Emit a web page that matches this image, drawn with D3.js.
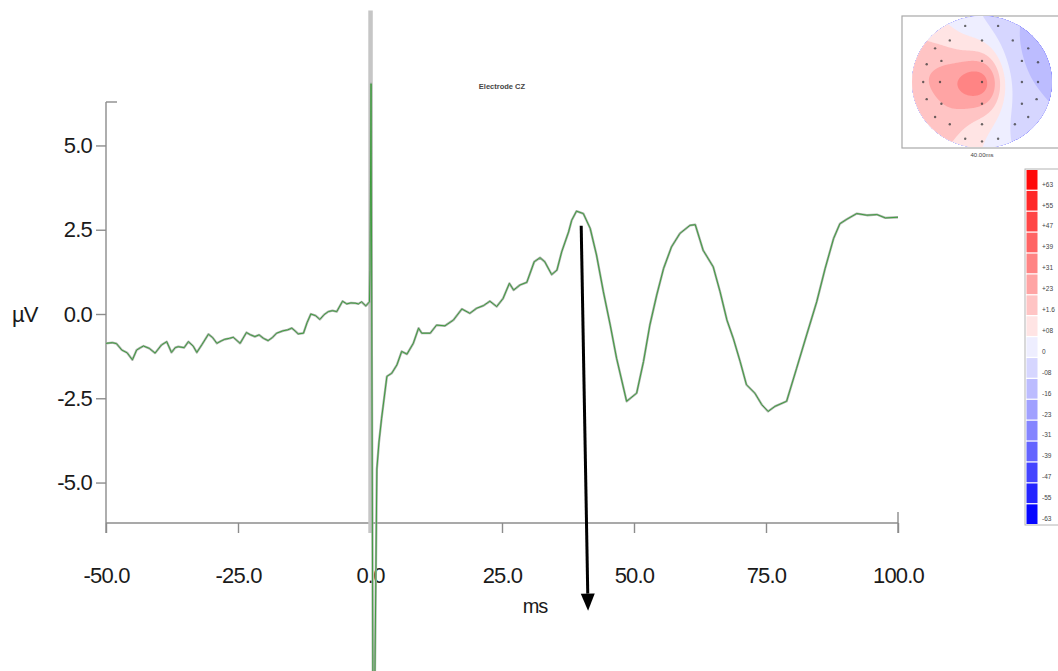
<!DOCTYPE html>
<html>
<head>
<meta charset="utf-8">
<script src="https://cdn.jsdelivr.net/npm/d3@7"></script>
<style>
  html, body { margin: 0; padding: 0; background: #fff; }
  svg { display: block; font-family: "Liberation Sans", Arial, sans-serif; }
</style>
</head>
<body>
<svg id="chart" width="1058" height="671"></svg>
<script>
// ---- ERP trace, electrode CZ (time in ms, amplitude in µV) ----
const timeMs = [
  -50, -48.8, -48, -47, -46, -45, -44.2, -43.5, -42.9, -41.8, -40.7, -39.5, -38.5, -37.6, -36.9, -36.3,
  -35.2, -34.4, -33.5, -32.8, -31.8, -30.6, -29.8, -29.0, -28.2, -27.5, -26.6, -25.9, -24.6, -23.4,
  -22.6, -21.8, -21.0, -20.2, -19.3, -18.5, -17.7, -16.5, -15.6, -14.8, -14.2, -13.6, -12.6, -11.9,
  -11.2, -10.3, -9.5, -8.7, -7.9, -7.1, -6.3, -5.2, -4.4, -3.6, -2.8, -2.2, -1.6, -0.8, -0.1,
  0.0, 0.2, 0.55, 0.9, 1.3, 1.7,
  2.2, 3.2, 4.1, 5.1, 6.0, 7.0, 8.2, 9.2, 9.8, 11.4, 12.6, 14.2, 15.8, 17.4, 18.9, 20.2, 21.5, 22.7,
  24.0, 25.2, 26.4, 27.2, 28.4, 29.7, 31.1, 32.2, 33.1, 34.4, 35.4, 36.3, 37.6, 38.2, 39.1, 40.4,
  41.7, 42.9, 44.2, 45.5, 46.7, 48.6, 50.5, 51.8, 53.0, 54.3, 55.6, 57.1, 58.7, 60.6, 61.6, 63.1,
  65.0, 66.3, 67.6, 68.8, 70.1, 71.3, 72.9, 74.2, 75.4, 76.7, 78.9, 80.8, 82.7, 84.6, 86.2, 87.8,
  89.0, 90.3, 92.2, 94.1, 96.0, 97.6, 100
];
const amplitudeUv = [
  -0.87, -0.85, -0.88, -1.07, -1.15, -1.36, -1.07, -1.0, -0.95, -1.02, -1.16, -0.92, -0.82, -1.14, -1.0, -0.97,
  -1.0, -0.82, -0.95, -1.14, -0.9, -0.60, -0.7, -0.87, -0.8, -0.75, -0.72, -0.69, -0.87, -0.55,
  -0.62, -0.67, -0.62, -0.72, -0.79, -0.7, -0.57, -0.5, -0.47, -0.42, -0.5, -0.59, -0.57, -0.25,
  0.0, -0.05, -0.16, -0.02, 0.07, 0.1, 0.07, 0.38, 0.3, 0.33, 0.32, 0.3, 0.36, 0.24, 0.36,
  1.3, 6.83, -11.2, -11.2, -4.6, -3.8,
  -3.09, -1.85, -1.76, -1.51, -1.11, -1.19, -0.87, -0.42, -0.57, -0.57, -0.33, -0.35, -0.18, 0.15, 0.02, 0.17, 0.25, 0.38,
  0.22, 0.46, 0.91, 0.71, 0.86, 0.94, 1.55, 1.67, 1.55, 1.17, 1.30, 1.84, 2.43, 2.78, 3.05, 2.98,
  2.54, 1.75, 0.66, -0.33, -1.31, -2.59, -2.35, -1.41, -0.33, 0.56, 1.35, 1.99, 2.39, 2.63, 2.65, 1.89,
  1.40, 0.66, -0.18, -0.72, -1.41, -2.10, -2.35, -2.69, -2.89, -2.74, -2.59, -1.61, -0.62, 0.36, 1.35, 2.24,
  2.68, 2.81, 2.98, 2.93, 2.95, 2.85, 2.87
];

// axis ticks
const xTicks = [-50, -25, 0, 25, 50, 75, 100];
const yTicks = [-5, -2.5, 0, 2.5, 5];

// stimulus marker (gray band at onset)
const stimulusTime = 0.1;
const stimulusTop = 9.0;
const stimulusBottom = -6.5;

// annotation arrow at the P40 peak
const arrowFrom = [40.0, 2.62];
const arrowTo = [41.3, -8.8];

// ---- scalp map at 40 ms: electrode positions (head units) and amplitudes ----
const elecX = [-0.24, 0.23, -0.46, 0, 0.44, -0.67, 0.66, -0.79, -0.58, 0, 0.57, 0.8, -0.84, -0.6, 0, 0.57, 0.8,
  -0.79, -0.58, 0, 0.57, 0.78, -0.67, -0.46, 0, 0.47, 0.66, -0.24, 0, 0.23];
const elecY = [-0.85, -0.85, -0.63, -0.63, -0.63, -0.51, -0.51, -0.27, -0.32, -0.32, -0.32, -0.30, 0, 0, 0, 0, 0,
  0.26, 0.33, 0.33, 0.33, 0.26, 0.53, 0.64, 0.64, 0.64, 0.53, 0.86, 0.9, 0.86];
const elecVal = [-0.3, -1.1, 0.5, 0.4, -1.3, 0.8, -1.4, 1.3, 2.6, 2.4, -1.1, -1.5, 1.6, 3.6, 4.4, -0.9, -1.5,
  0.5, 3.0, 2.6, -0.4, -1.4, 1.0, 1.7, 0.9, -0.7, -1.1, 1.0, 0.3, -0.5];

// colour bar, top to bottom
const barValues = [6.3, 5.5, 4.7, 3.9, 3.1, 2.3, 1.6, 0.8, 0, -0.8, -1.6, -2.3, -3.1, -3.9, -4.7, -5.5, -6.3];
const barLabels = ["+63", "+55", "+47", "+39", "+31", "+23", "+1.6", "+08", "0", "-08", "-16", "-23", "-31", "-39", "-47", "-55", "-63"];
const barColors = ["#ff0a0a", "#ff2828", "#ff4646", "#ff6464", "#ff8484", "#ffa4a4", "#ffc4c4", "#ffe4e4",
  "#eeeeff", "#d6d6ff", "#bcbcff", "#a0a0ff", "#8484ff", "#6464ff", "#4444ff", "#2424ff", "#0606ff"];

const mapLabel = "40.00ms";
const titleText = "Electrode CZ";

// ------------------------------------------------------------------
const svg = d3.select("#chart");
const axisColor = "#8c8c8c";
const fmt = d => d.toFixed(1);

const x = d3.scaleLinear().domain([-50, 100]).range([106, 898]);
const y = d3.scaleLinear().domain([-6.2, 6.2]).range([523, 105]);

// axes
const gx = svg.append("g").attr("transform", `translate(0,${y(-6.2)})`)
  .call(d3.axisBottom(x).tickValues(xTicks).tickFormat(fmt).tickSize(10).tickPadding(34));
const gy = svg.append("g").attr("transform", `translate(${x(-50)},0)`)
  .call(d3.axisLeft(y).tickValues(yTicks).tickFormat(fmt).tickSize(10).tickPadding(4));
[gx, gy].forEach(g => {
  g.select(".domain").remove();
  g.selectAll(".tick line").attr("stroke", axisColor).attr("stroke-width", 1.4);
  g.selectAll(".tick text").attr("fill", "#1a1a1a").attr("font-size", 22)
    .attr("letter-spacing", "-0.8px").attr("font-family", '"Liberation Sans", Arial, sans-serif');
});
// axis lines
svg.append("line").attr("x1", x(-50)).attr("x2", x(100)).attr("y1", y(-6.2)).attr("y2", y(-6.2))
  .attr("stroke", axisColor).attr("stroke-width", 1.4);
svg.append("line").attr("x1", x(-50)).attr("x2", x(-50)).attr("y1", y(6.2) - 3).attr("y2", y(-6.2) + 10)
  .attr("stroke", axisColor).attr("stroke-width", 1.4);
svg.append("line").attr("x1", x(-50)).attr("x2", x(-50) + 11).attr("y1", y(6.2) - 3).attr("y2", y(6.2) - 3)
  .attr("stroke", axisColor).attr("stroke-width", 1.4);
svg.append("line").attr("x1", x(100)).attr("x2", x(100)).attr("y1", y(-6.2) - 11).attr("y2", y(-6.2) + 10)
  .attr("stroke", axisColor).attr("stroke-width", 1.4);

// axis titles
svg.append("text").attr("x", 12).attr("y", y(0)).attr("dy", "0.35em").attr("font-size", 22)
  .attr("letter-spacing", "-1px").attr("fill", "#1a1a1a").text("µV");
svg.append("text").attr("x", 535).attr("y", 606).attr("dy", "0.35em").attr("text-anchor", "middle")
  .attr("font-size", 20).attr("letter-spacing", "-1px").attr("fill", "#1a1a1a").text("ms");

// title
svg.append("text").attr("x", 502).attr("y", 86).attr("dy", "0.35em").attr("text-anchor", "middle")
  .attr("font-size", 7.5).attr("font-weight", "bold").attr("fill", "#444").text(titleText);

// stimulus band
svg.append("line").attr("x1", x(stimulusTime)).attr("x2", x(stimulusTime))
  .attr("y1", y(stimulusTop)).attr("y2", y(stimulusBottom))
  .attr("stroke", "#c6c6c6").attr("stroke-width", 4.5);

// trace: gray underlay with a thin green line on top
const pts = timeMs.map((t, i) => [t, amplitudeUv[i]]);
const line = d3.line().x(d => x(d[0])).y(d => y(d[1]));
svg.append("path").datum(pts).attr("d", line).attr("fill", "none")
  .attr("stroke", "#a9b0a9").attr("stroke-width", 2.3).attr("stroke-linejoin", "round");
svg.append("path").datum(pts).attr("d", line).attr("fill", "none")
  .attr("stroke", "#3f9c3f").attr("stroke-width", 1).attr("stroke-linejoin", "round");

// annotation arrow
{
  const x1 = x(arrowFrom[0]), y1 = y(arrowFrom[1]);
  const x2 = x(arrowTo[0]), y2 = y(arrowTo[1]);
  const ang = Math.atan2(y2 - y1, x2 - x1);
  const headLen = 17, headHalf = 7;
  const bx = x2 - headLen * Math.cos(ang), by = y2 - headLen * Math.sin(ang);
  svg.append("line").attr("x1", x1).attr("y1", y1).attr("x2", bx).attr("y2", by)
    .attr("stroke", "#000").attr("stroke-width", 3);
  const px = -Math.sin(ang), py = Math.cos(ang);
  svg.append("path")
    .attr("d", `M${x2},${y2}L${bx + px * headHalf},${by + py * headHalf}L${bx - px * headHalf},${by - py * headHalf}Z`)
    .attr("fill", "#000");
}

// ---- scalp map ----
const box = { x: 902, y: 16, w: 170, h: 132 };
svg.append("rect").attr("x", box.x).attr("y", box.y).attr("width", box.w).attr("height", box.h)
  .attr("fill", "#fff").attr("stroke", "#a8a8a8").attr("stroke-width", 1.2);

const head = { cx: 982, cy: 82, rx: 70, ry: 66 };
const hx = d3.scaleLinear().domain([-1, 1]).range([head.cx - head.rx, head.cx + head.rx]);
const hy = d3.scaleLinear().domain([-1, 1]).range([head.cy - head.ry, head.cy + head.ry]);

const defs = svg.append("defs");
defs.append("clipPath").attr("id", "headClip")
  .append("ellipse").attr("cx", head.cx).attr("cy", head.cy).attr("rx", head.rx).attr("ry", head.ry);
defs.append("clipPath").attr("id", "boxClip")
  .append("rect").attr("x", box.x).attr("y", box.y).attr("width", box.w).attr("height", box.h - 1);

// Gaussian-kernel surface over the head, then banded contours
const sigma = 17;
const gx0 = head.cx - head.rx - 2, gy0 = head.cy - head.ry - 2;
const nx = Math.ceil(2 * head.rx) + 4, ny = Math.ceil(2 * head.ry) + 4;
const grid = new Float64Array(nx * ny);
const ex = elecX.map(hx), ey = elecY.map(hy);
for (let j = 0; j < ny; j++) {
  for (let i = 0; i < nx; i++) {
    const px = gx0 + i + 0.5, py = gy0 + j + 0.5;
    let num = 0, den = 0;
    for (let k = 0; k < elecVal.length; k++) {
      const dx = px - ex[k], dy = py - ey[k];
      const w = Math.exp(-(dx * dx + dy * dy) / (2 * sigma * sigma)) + 1e-9;
      num += w * elecVal[k]; den += w;
    }
    grid[j * nx + i] = num / den;
  }
}
const binsAsc = barColors.slice().reverse();
const step = (barValues[0] - barValues[barValues.length - 1]) / (barValues.length - 1);
const lowEdge = barValues[barValues.length - 1] - step / 2;
const edges = binsAsc.map((c, k) => (k === 0 ? -1e9 : lowEdge + k * step));
const contours = d3.contours().size([nx, ny]).thresholds(edges)(grid);
const mapG = svg.append("g").attr("clip-path", "url(#boxClip)")
  .append("g").attr("clip-path", "url(#headClip)")
  .append("g").attr("transform", `translate(${gx0},${gy0})`);
mapG.selectAll("path").data(contours).join("path")
  .attr("d", d3.geoPath())
  .attr("fill", (d, k) => binsAsc[k]);

// electrodes
svg.append("g").selectAll("circle").data(elecVal).join("circle")
  .attr("cx", (d, k) => ex[k]).attr("cy", (d, k) => ey[k])
  .attr("r", 1.2).attr("fill", "#3a3a3a").attr("opacity", 0.75);

svg.append("text").attr("x", 982).attr("y", 155).attr("dy", "0.35em").attr("text-anchor", "middle")
  .attr("font-size", 6).attr("fill", "#444").text(mapLabel);

// ---- colour bar ----
const bar = { x: 1025, top: 169, bottom: 524 };
const barY = d3.scaleBand().domain(barValues.map(String)).range([bar.top + 1, bar.bottom]).paddingInner(0.06);
svg.append("rect").attr("x", bar.x).attr("y", bar.top).attr("width", 60).attr("height", bar.bottom - bar.top + 1)
  .attr("fill", "#fff").attr("stroke", "#b4b4b4").attr("stroke-width", 1);
svg.append("g").selectAll("rect").data(barValues).join("rect")
  .attr("x", bar.x + 1.5).attr("width", 11)
  .attr("y", d => barY(String(d))).attr("height", barY.bandwidth())
  .attr("fill", (d, k) => barColors[k]);
svg.append("g").selectAll("text").data(barValues).join("text")
  .attr("x", bar.x + 17).attr("y", d => barY(String(d)) + barY.bandwidth() - 3)
  .attr("font-size", 6.5).attr("fill", "#444")
  .text((d, k) => barLabels[k]);
</script>
</body>
</html>
